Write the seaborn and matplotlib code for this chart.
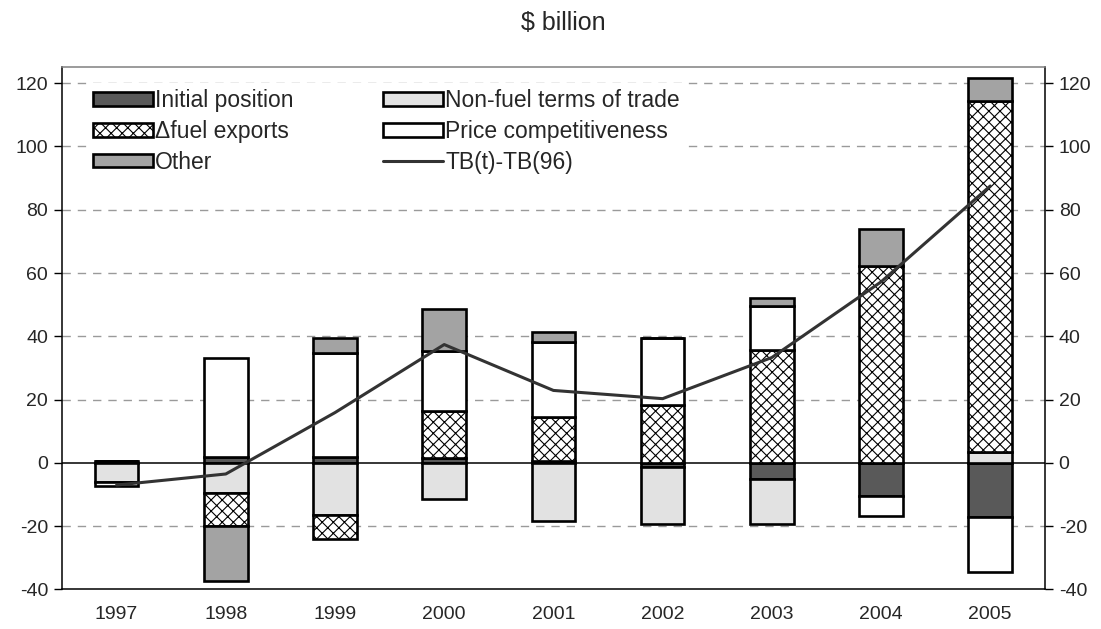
"""
trade balance decomposition, stacked bars with TB line
"""
import matplotlib as mpl
import matplotlib.pyplot as plt
import seaborn as sns
import pandas as pd
import numpy as np

sns.set_theme(style='white')
plt.rcParams['font.family'] = ['Liberation Sans', 'DejaVu Sans']
plt.rcParams['hatch.linewidth'] = 0.8
plt.rcParams['axes.unicode_minus'] = False

#%% data ($ billion)
years = ['1997', '1998', '1999', '2000', '2001', '2002', '2003', '2004', '2005']
initial_position = [0.5, 2.0, 1.9, 1.6, 0.5, -1.2, -5.0, -10.4, -17.2]
nonfuel_tot = [-6.0, -9.6, -16.5, -11.4, -18.3, -18.0, -14.4, 0.0, 3.3]
fuel_exports = [0.0, -10.4, -7.4, 14.8, 14.1, 18.2, 35.8, 62.1, 110.9]
price_comp = [-1.3, 31.3, 32.8, 19.0, 23.7, 21.2, 13.9, -6.3, -17.2]
other = [0.0, -17.2, 4.8, 13.2, 3.0, 0.0, 2.5, 11.8, 7.4]
tb_change = [-7.0, -3.5, 15.9, 37.4, 22.9, 20.3, 33.3, 57.2, 87.5]

components = [('Initial position', initial_position, '#595959', None),
              ('Non-fuel terms of trade', nonfuel_tot, '#e2e2e2', None),
              (u'\u0394fuel exports', fuel_exports, 'white', 'xxx'),
              ('Price competitiveness', price_comp, 'white', None),
              ('Other', other, '#a3a3a3', None)]

#%% plot
fig = plt.figure(figsize=(11.01, 6.29), dpi=100)
ax = fig.add_axes([0.0563, 0.0628, 0.8927, 0.8302])

x = np.arange(len(years))
pos_base = np.zeros(len(years))
neg_base = np.zeros(len(years))
for name, vals, col, hatch in components:
    vals = np.array(vals)
    base = np.where(vals >= 0, pos_base, neg_base)
    ax.bar(x, vals, bottom=base, width=0.4, color=col, edgecolor='black',
           linewidth=1.9, hatch=hatch, zorder=3, label=name)
    pos_base = pos_base + np.clip(vals, 0, None)
    neg_base = neg_base + np.clip(vals, None, 0)

df = pd.DataFrame({'x': x, 'tb': tb_change})
sns.lineplot(data=df, x='x', y='tb', ax=ax, color='#333333', linewidth=2.2,
             zorder=4, label='TB(t)-TB(96)')

# grid and zero line
for yv in [-20, 20, 40, 60, 80, 100, 120]:
    ax.axhline(yv, color='#9a9a9a', linewidth=1, dashes=(6, 5), zorder=1)
ax.axhline(0, color='black', linewidth=1.1, zorder=2)

ax.set(xlim=(-0.5, 8.5), ylim=(-40, 125), xlabel='', ylabel='')
ax.set_xticks(x)
ax.set_xticklabels(years)
ax.set_yticks(np.arange(-40, 121, 20))
ax.tick_params(axis='y', which='both', left=True, right=True, labelleft=True,
               labelright=True, direction='out', length=6, width=1,
               labelsize=14, color='black', pad=4)
ax.tick_params(axis='x', bottom=False, labelsize=14, pad=6)
for s in ['left', 'bottom', 'right']:
    ax.spines[s].set_color('black')
    ax.spines[s].set_linewidth(1.1)
ax.spines['top'].set_color('#808080')
ax.spines['top'].set_linewidth(1.1)

# legend, column-wise fill
lh, ll = ax.get_legend_handles_labels()
order = ['Initial position', u'\u0394fuel exports', 'Other',
         'Non-fuel terms of trade', 'Price competitiveness', 'TB(t)-TB(96)']
hmap = dict(zip(ll, lh))
leg = ax.legend([hmap[o] for o in order], order, ncol=2, loc='upper left',
                bbox_to_anchor=(0.018, 0.984), frameon=True, fancybox=False,
                edgecolor='none', facecolor='white', framealpha=1,
                fontsize=16.5, handlelength=2.6, handleheight=0.55,
                handletextpad=0.1, columnspacing=3.9, labelspacing=0.33,
                borderpad=0.3, borderaxespad=0.3)
leg.set_zorder(5)

fig.text(0.512, 0.963, '$ billion', ha='center', va='center', fontsize=18)

plt.savefig('out.png', dpi=100, facecolor='white')
